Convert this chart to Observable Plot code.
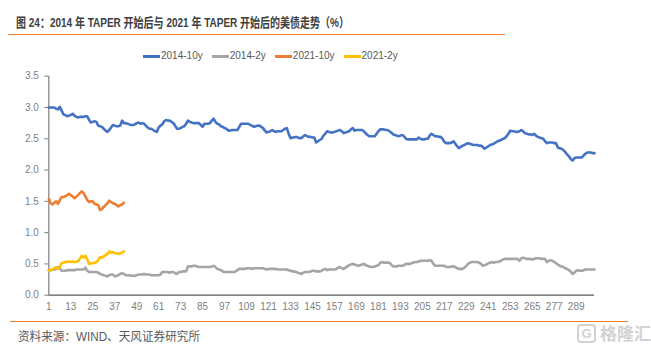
<!DOCTYPE html>
<html><head><meta charset="utf-8">
<script src="https://cdn.jsdelivr.net/npm/d3@7"></script>
<script src="https://cdn.jsdelivr.net/npm/@observablehq/plot@0.6"></script>
<style>
html,body{margin:0;padding:0;background:#fff;}
body{width:651px;height:351px;position:relative;overflow:hidden;font-family:"Liberation Sans Narrow","Liberation Sans","Noto Sans CJK SC",sans-serif;}
.abs{position:absolute;white-space:nowrap;}
#title{left:16px;top:15px;font-size:13px;line-height:16px;font-weight:bold;color:#404040;transform-origin:left center;font-family:"Liberation Sans Narrow","Liberation Sans","Noto Sans CJK SC",sans-serif;}
#tline{left:8px;top:34px;width:497px;height:0;border-top:1.5px solid #EE7F2D;}
#legend{left:143px;top:49px;display:flex;align-items:center;font-size:10px;color:#595959;line-height:14px;}
.li{display:flex;align-items:center;margin-right:9px;}
.sw{width:17px;height:3px;margin-right:1px;}
#chart{left:0;top:60px;}
#cline{left:10px;top:321px;width:618px;height:0;border-top:1.5px solid #EE7F2D;}
#caption{left:18px;top:330px;font-size:12px;line-height:14px;color:#595959;transform-origin:left center;}
#wm{left:577px;top:323px;display:flex;align-items:center;color:#d2d2d2;font-weight:bold;font-size:17px;line-height:20px;}
#wm .g{width:15px;height:15px;border:2px solid #d2d2d2;border-radius:4px;font-size:13px;line-height:15px;text-align:center;margin-right:4px;}
</style></head>
<body>
<div id="title" class="abs">图 24：2014 年 TAPER 开始后与 2021 年 TAPER 开始后的美债走势（%）</div>
<div id="tline" class="abs"></div>
<div id="legend" class="abs"></div>
<div id="chart" class="abs"></div>
<div id="cline" class="abs"></div>
<div id="caption" class="abs">资料来源：WIND、天风证券研究所</div>
<div id="wm" class="abs"><div class="g">G</div><span style="font-family:'Noto Sans CJK SC',sans-serif;">格隆汇</span></div>
<script>
const seriesNames = ["2014-10y", "2014-2y", "2021-10y", "2021-2y"];
const seriesColors = ["#4472C4", "#A5A5A5", "#ED7D31", "#FFC000"];
const xTicks = [1, 13, 25, 37, 49, 61, 73, 85, 97, 109, 121, 133, 145, 157, 169, 181, 193, 205, 217, 229, 241, 253, 265, 277, 289];
const yTicks = [0, 0.5, 1.0, 1.5, 2.0, 2.5, 3.0, 3.5];

const y2014_10y = [
3.00,3.00,3.00,3.00,2.98,2.97,3.01,2.95,2.89,2.88,
2.86,2.87,2.88,2.90,2.87,2.85,2.84,2.85,2.85,2.85,
2.86,2.86,2.80,2.76,2.77,2.78,2.77,2.71,2.70,2.69,
2.66,2.63,2.61,2.64,2.68,2.72,2.71,2.70,2.70,2.71,
2.79,2.75,2.75,2.74,2.73,2.72,2.72,2.73,2.75,2.76,
2.74,2.75,2.74,2.71,2.68,2.66,2.66,2.64,2.62,2.61,
2.68,2.71,2.73,2.78,2.80,2.79,2.79,2.77,2.75,2.71,
2.66,2.66,2.67,2.69,2.70,2.74,2.79,2.77,2.76,2.75,
2.75,2.75,2.75,2.72,2.69,2.74,2.74,2.74,2.75,2.79,
2.82,2.77,2.74,2.73,2.70,2.69,2.67,2.66,2.63,2.63,
2.64,2.64,2.64,2.64,2.69,2.74,2.74,2.74,2.74,2.74,
2.72,2.71,2.69,2.70,2.71,2.71,2.69,2.67,2.63,2.60,
2.61,2.62,2.64,2.62,2.61,2.62,2.62,2.62,2.64,2.66,
2.67,2.58,2.51,2.52,2.52,2.53,2.52,2.51,2.51,2.54,
2.56,2.54,2.53,2.53,2.52,2.52,2.44,2.46,2.48,2.50,
2.55,2.58,2.62,2.61,2.60,2.60,2.61,2.62,2.63,2.64,
2.62,2.59,2.60,2.61,2.62,2.65,2.67,2.63,2.64,2.64,
2.64,2.64,2.62,2.59,2.56,2.54,2.54,2.54,2.54,2.58,
2.62,2.65,2.65,2.65,2.64,2.64,2.62,2.60,2.57,2.56,
2.55,2.54,2.55,2.56,2.54,2.50,2.49,2.49,2.49,2.49,
2.49,2.49,2.52,2.50,2.49,2.49,2.50,2.50,2.55,2.58,
2.56,2.54,2.54,2.53,2.53,2.50,2.45,2.43,2.43,2.43,
2.44,2.46,2.42,2.38,2.35,2.37,2.39,2.40,2.42,2.43,
2.42,2.41,2.40,2.40,2.40,2.39,2.39,2.37,2.34,2.36,
2.38,2.40,2.41,2.42,2.44,2.46,2.47,2.48,2.50,2.51,
2.54,2.58,2.63,2.62,2.62,2.61,2.61,2.62,2.64,2.62,
2.59,2.58,2.57,2.57,2.56,2.58,2.55,2.53,2.52,2.51,
2.50,2.46,2.43,2.44,2.44,2.44,2.43,2.43,2.36,2.35,
2.34,2.32,2.29,2.25,2.22,2.18,2.15,2.19,2.20,2.20,
2.20,2.20,2.23,2.26,2.28,2.28,2.28,2.27,2.27];

const y2014_2y = [
0.40,0.40,0.41,0.41,0.42,0.45,0.43,0.39,0.39,0.39,
0.40,0.40,0.40,0.40,0.40,0.41,0.41,0.41,0.41,0.41,
0.44,0.39,0.37,0.37,0.37,0.37,0.37,0.36,0.34,0.33,
0.32,0.31,0.30,0.32,0.33,0.33,0.30,0.31,0.32,0.34,
0.35,0.34,0.32,0.32,0.32,0.31,0.31,0.31,0.32,0.33,
0.33,0.33,0.34,0.33,0.33,0.33,0.32,0.32,0.32,0.32,
0.32,0.33,0.37,0.37,0.37,0.37,0.36,0.37,0.37,0.35,
0.34,0.37,0.37,0.38,0.38,0.38,0.46,0.46,0.46,0.47,
0.47,0.46,0.45,0.45,0.45,0.45,0.45,0.45,0.45,0.46,
0.47,0.45,0.42,0.41,0.40,0.38,0.37,0.37,0.37,0.37,
0.37,0.37,0.38,0.40,0.42,0.42,0.42,0.42,0.43,0.43,
0.43,0.42,0.43,0.43,0.43,0.43,0.43,0.43,0.42,0.41,
0.42,0.42,0.42,0.42,0.42,0.41,0.41,0.41,0.41,0.41,
0.41,0.40,0.39,0.38,0.38,0.37,0.36,0.35,0.34,0.36,
0.37,0.37,0.37,0.38,0.39,0.39,0.38,0.38,0.38,0.39,
0.41,0.42,0.40,0.41,0.41,0.41,0.41,0.42,0.44,0.45,
0.43,0.42,0.44,0.46,0.48,0.49,0.50,0.49,0.48,0.47,
0.48,0.49,0.50,0.48,0.47,0.46,0.45,0.45,0.46,0.47,
0.48,0.52,0.53,0.52,0.52,0.52,0.52,0.49,0.46,0.46,
0.46,0.47,0.47,0.47,0.48,0.50,0.50,0.50,0.51,0.52,
0.53,0.53,0.54,0.55,0.55,0.55,0.55,0.55,0.56,0.55,
0.50,0.47,0.47,0.47,0.47,0.47,0.47,0.45,0.45,0.45,
0.46,0.46,0.45,0.43,0.42,0.42,0.42,0.44,0.47,0.50,
0.52,0.53,0.53,0.53,0.53,0.52,0.50,0.47,0.48,0.49,
0.51,0.52,0.53,0.52,0.53,0.53,0.54,0.55,0.57,0.58,
0.58,0.58,0.58,0.58,0.58,0.58,0.58,0.55,0.59,0.60,
0.59,0.58,0.58,0.58,0.57,0.58,0.59,0.59,0.59,0.58,
0.58,0.58,0.53,0.55,0.56,0.55,0.53,0.51,0.49,0.47,
0.46,0.45,0.43,0.42,0.40,0.38,0.34,0.36,0.39,0.40,
0.39,0.39,0.40,0.41,0.41,0.41,0.41,0.41,0.41];

const y2021_10y = [
1.54,1.47,1.45,1.48,1.50,1.46,1.52,1.57,1.57,1.58,
1.60,1.62,1.60,1.58,1.55,1.57,1.60,1.63,1.66,1.63,
1.58,1.52,1.49,1.50,1.50,1.46,1.45,1.44,1.36,1.38,
1.41,1.44,1.47,1.51,1.49,1.47,1.46,1.44,1.42,1.44,
1.45,1.48];

const y2021_2y = [
0.40,0.40,0.41,0.43,0.45,0.42,0.45,0.51,0.52,0.53,
0.53,0.54,0.53,0.54,0.53,0.53,0.55,0.58,0.63,0.60,
0.63,0.57,0.50,0.51,0.51,0.52,0.53,0.56,0.61,0.60,
0.62,0.64,0.66,0.70,0.68,0.69,0.67,0.67,0.66,0.67,
0.68,0.70];

const allSeries = [y2014_10y, y2014_2y, y2021_10y, y2021_2y];
const rows = allSeries.flatMap((arr, s) => arr.map((v, i) => ({x: i + 1, y: v, s: seriesNames[s]})));

const font = "'Liberation Sans Narrow','Liberation Sans',sans-serif";
const chart = Plot.plot({
  width: 651,
  height: 260,
  marginTop: 15.7,
  marginBottom: 25.3,
  marginLeft: 48.3,
  marginRight: 57,
  style: {fontFamily: font, fontSize: "10px", background: "transparent", overflow: "visible", color: "#7f7f7f"},
  x: {domain: [1, 299], axis: null},
  y: {domain: [0, 3.5], axis: null},
  color: {domain: seriesNames, range: seriesColors},
  marks: [
    Plot.axisX({ticks: xTicks, tickSize: 0, tickPadding: 8, tickFormat: d => String(d), fill: "#7f7f7f", label: null}),
    Plot.axisY({ticks: yTicks, tickSize: 4, tickPadding: 6, tickFormat: d3.format(".1f"), fill: "#7f7f7f", stroke: "#7f7f7f", label: null}),
    Plot.ruleX([1], {stroke: "#7f7f7f", strokeWidth: 1.2}),
    Plot.ruleY([0], {stroke: "#595959", strokeWidth: 1.3}),
    Plot.line(rows, {x: "x", y: "y", z: "s", stroke: "s", strokeWidth: 2.6, strokeLinejoin: "round", strokeLinecap: "round"})
  ]
});
document.getElementById("chart").appendChild(chart);

// legend
const leg = document.getElementById("legend");
seriesNames.forEach((n, i) => {
  const it = document.createElement("div"); it.className = "li";
  const sw = document.createElement("div"); sw.className = "sw"; sw.style.background = seriesColors[i];
  const tx = document.createElement("span"); tx.textContent = n;
  it.appendChild(sw); it.appendChild(tx); leg.appendChild(it);
});

function fitWidth(id, target) {
  const el = document.getElementById(id);
  const w = el.getBoundingClientRect().width;
  if (w > 0) el.style.transform = `scaleX(${target / w})`;
}
fitWidth("title", 333);
fitWidth("caption", 182);
</script>
</body></html>
